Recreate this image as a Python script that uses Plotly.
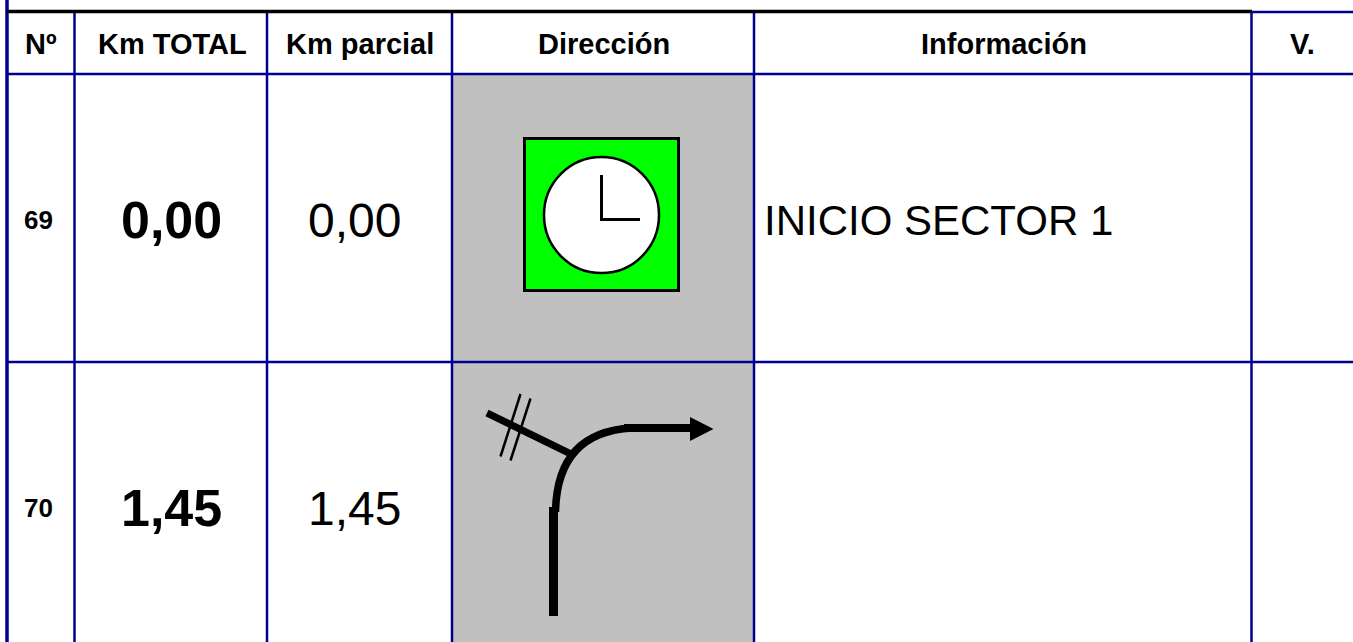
import plotly.graph_objects as go

NAVY = "#000090"
FONT = "Liberation Sans"

headers = ["Nº", "Km TOTAL", "Km parcial", "Dirección", "Información", "V."]
header_x = [41, 172, 360, 604, 1004, 1302]
numbers = ["69", "70"]
km_total = ["0,00", "1,45"]
km_parcial = ["0,00", "1,45"]
info = ["INICIO SECTOR 1", ""]
row_y = [220, 508]
column_edges = [74.5, 267, 452, 754, 1251.5]
row_edges = [74, 362]

fig = go.Figure()
shapes = []


def line(x0, y0, x1, y1, color="black", width=2):
    shapes.append(dict(type="line", x0=x0, y0=y0, x1=x1, y1=y1,
                       line=dict(color=color, width=width)))


# gray direction column
shapes.append(dict(type="rect", x0=452, x1=754, y0=74, y1=642,
                   fillcolor="#c0c0c0", line=dict(width=0)))

# clock symbol
shapes.append(dict(type="rect", x0=524.5, x1=678.5, y0=138.5, y1=290.5,
                   fillcolor="#00ff00", line=dict(color="black", width=3)))
shapes.append(dict(type="circle", x0=544, x1=659, y0=157, y1=273,
                   fillcolor="white", line=dict(color="black", width=2.5)))
line(601.5, 175, 601.5, 220, width=3)
line(600, 219.5, 640, 219.5, width=3)

# junction symbol
line(553.5, 507, 553.5, 616, width=9)
shapes.append(dict(type="path", path="M 555.5 512 Q 557 432 632 428",
                   line=dict(color="black", width=7.5)))
line(624, 428, 692, 428, width=8)
shapes.append(dict(type="path", path="M 690 417 L 713.5 429 L 690 441 Z",
                   fillcolor="black", line=dict(width=0)))
line(487, 413, 573, 455, width=7)
line(520.5, 394, 500.5, 456.5, width=2.5)
line(530.5, 398.5, 510.5, 460.5, width=2.5)

# table grid
for ex in column_edges:
    line(ex, 12, ex, 642, NAVY, 2.5)
for ey in row_edges:
    line(7, ey, 1353, ey, NAVY, 2.5)
line(1252, 12, 1353, 12, NAVY, 2.5)
line(7, 0, 7, 642, NAVY, 3.5)
line(7, 11.5, 1252, 11.5, "black", 3.5)

annotations = []


def label(x, y, text, size, bold=False, anchor="center"):
    annotations.append(dict(x=x, y=y, text=f"<b>{text}</b>" if bold else text,
                            xref="x", yref="y", showarrow=False, xanchor=anchor,
                            yanchor="middle",
                            font=dict(family=FONT, size=size, color="black")))


for hx, h in zip(header_x, headers):
    label(hx, 44, h, 29, True)
for ry, n, t, p, i in zip(row_y, numbers, km_total, km_parcial, info):
    label(38, ry, n, 26, True)
    label(171, ry, t, 52, True)
    label(354, ry, p, 48)
    if i:
        label(762, ry, i, 42, anchor="left")

fig.add_trace(go.Scatter(x=[0, 1353], y=[0, 642], mode="markers",
                         marker=dict(opacity=0), hoverinfo="skip", showlegend=False))
fig.update_layout(
    width=1353, height=642, margin=dict(l=0, r=0, t=0, b=0),
    paper_bgcolor="white", plot_bgcolor="white",
    xaxis=dict(range=[0, 1353], visible=False, fixedrange=True),
    yaxis=dict(range=[642, 0], visible=False, fixedrange=True),
    shapes=shapes, annotations=annotations, showlegend=False,
)
fig.write_html("out.html", config=dict(displayModeBar=False),
               post_script="document.body.style.margin='0';document.body.style.overflow='hidden';")
